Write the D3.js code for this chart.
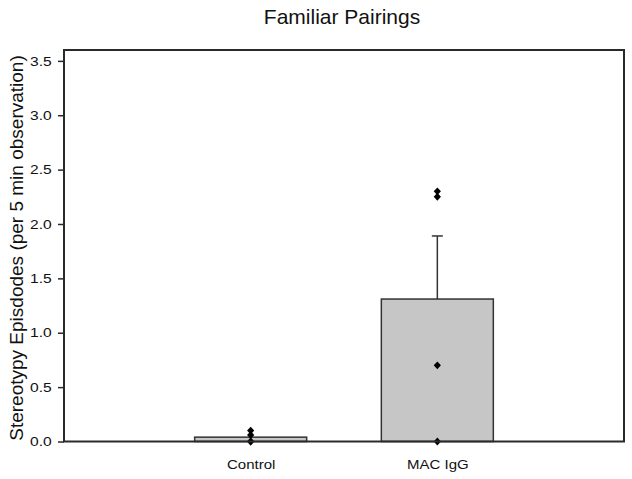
<!DOCTYPE html>
<html>
<head>
<meta charset="utf-8">
<script src="https://cdn.jsdelivr.net/npm/d3@7"></script>
<style>
  body { margin: 0; background: #fff; }
  text { font-family: "Liberation Sans", Arial, sans-serif; fill: #111; }
</style>
</head>
<body>
<div id="chart"></div>
<script>
var categories = ["Control", "MAC IgG"];
var barMeans = [0.04, 1.31];
var errorTops = [null, 1.89];
var controlPoints = [0.1, 0.06, 0, 0];
var macPoints = [2.3, 2.25, 0.7, 0];
var yTicks = [0, 0.5, 1.0, 1.5, 2.0, 2.5, 3.0, 3.5];

var width = 632, height = 479;
var margin = { top: 50, right: 8, bottom: 37.5, left: 64 };
var plotW = width - margin.left - margin.right;
var plotH = height - margin.top - margin.bottom;
var stretch = 1.2;   // tick labels look a little wide in the original

var svg = d3.select("#chart").append("svg")
    .attr("width", width)
    .attr("height", height);

var g = svg.append("g")
    .attr("transform", "translate(" + margin.left + "," + margin.top + ")");

var x = d3.scalePoint().domain(categories).range([0, plotW]).padding(1);
var y = d3.scaleLinear().domain([0, 3.6]).range([plotH, 0]);
var barWidth = x.step() * 0.6;

// bars
g.selectAll("rect.bar")
    .data(categories)
    .enter().append("rect")
    .attr("class", "bar")
    .attr("x", function(d) { return x(d) - barWidth / 2; })
    .attr("y", function(d, i) { return y(barMeans[i]); })
    .attr("width", barWidth)
    .attr("height", function(d, i) { return y(0) - y(barMeans[i]); })
    .attr("fill", "#c6c6c6")
    .attr("stroke", "#333")
    .attr("stroke-width", 1.5);

// error bars
categories.forEach(function(c, i) {
    if (errorTops[i] === null) return;
    g.append("line")
        .attr("x1", x(c)).attr("x2", x(c))
        .attr("y1", y(barMeans[i])).attr("y2", y(errorTops[i]))
        .attr("stroke", "#333").attr("stroke-width", 1.5);
    g.append("line")
        .attr("x1", x(c) - 5.5).attr("x2", x(c) + 5.5)
        .attr("y1", y(errorTops[i])).attr("y2", y(errorTops[i]))
        .attr("stroke", "#333").attr("stroke-width", 1.5);
});

// individual points
var diamond = d3.symbol().type(d3.symbolSquare).size(26);
[controlPoints, macPoints].forEach(function(pts, i) {
    g.selectAll("path.pt" + i)
        .data(pts)
        .enter().append("path")
        .attr("class", "pt" + i)
        .attr("d", diamond)
        .attr("transform", function(d) {
            return "translate(" + x(categories[i]) + "," + y(d) + ") scale(1,1.1) rotate(45)";
        })
        .attr("fill", "#000");
});

// frame
g.append("rect")
    .attr("x", 0).attr("y", 0)
    .attr("width", plotW).attr("height", plotH)
    .attr("fill", "none")
    .attr("stroke", "#2a2a2a")
    .attr("stroke-width", 2);

// y axis
var yAxis = d3.axisLeft(y)
    .tickValues(yTicks)
    .tickFormat(d3.format(".1f"))
    .tickSize(6);
var ya = g.append("g").call(yAxis);
ya.select(".domain").remove();
ya.selectAll(".tick line").attr("stroke", "#2a2a2a").attr("stroke-width", 1.5);
ya.selectAll(".tick text")
    .style("font-family", "Liberation Sans, Arial, sans-serif")
    .style("font-size", "13px")
    .attr("x", -12.3 / stretch)
    .attr("transform", "scale(" + stretch + ",1)")
    .attr("fill", "#111");

// x axis labels
var xAxis = d3.axisBottom(x).tickSize(0);
var xa = g.append("g").attr("transform", "translate(0," + plotH + ")").call(xAxis);
xa.select(".domain").remove();
xa.selectAll(".tick text")
    .style("font-family", "Liberation Sans, Arial, sans-serif")
    .style("font-size", "12.5px")
    .attr("y", 27.5)
    .attr("dy", 0)
    .attr("transform", "scale(" + stretch + ",1)")
    .attr("fill", "#111");

// title
svg.append("text")
    .attr("x", 342)
    .attr("y", 23.5)
    .attr("text-anchor", "middle")
    .style("font-size", "21px")
    .text("Familiar Pairings");

// y label
svg.append("text")
    .attr("transform", "translate(23,248) rotate(-90)")
    .attr("text-anchor", "middle")
    .style("font-size", "19px")
    .text("Stereotypy Episdodes (per 5 min observation)");
</script>
</body>
</html>
